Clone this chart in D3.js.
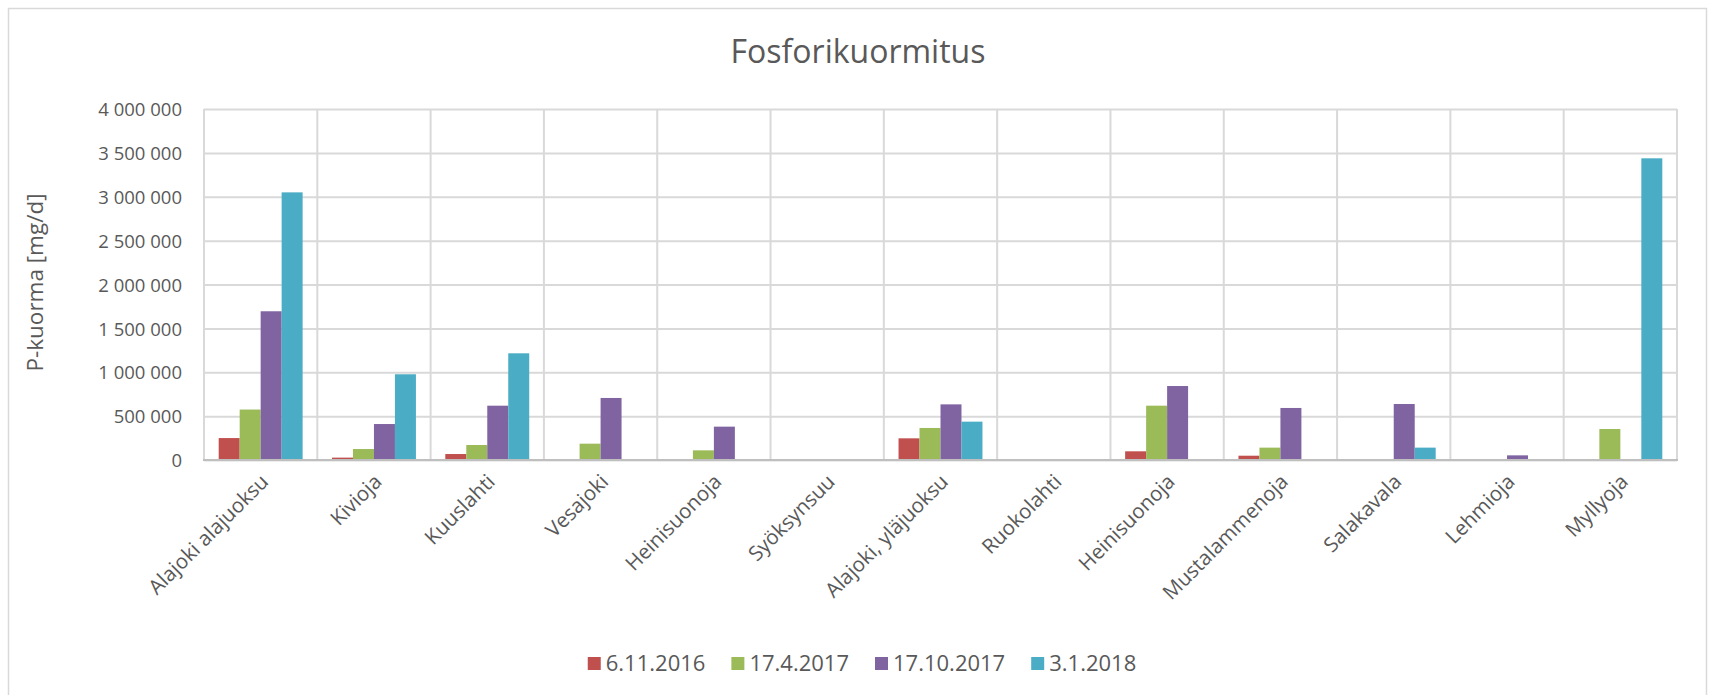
<!DOCTYPE html>
<html>
<head>
<meta charset="utf-8">
<script src="https://cdn.jsdelivr.net/npm/d3@7"></script>
<style>
  html, body { margin: 0; padding: 0; background: #ffffff; }
  svg { display: block; }
  text { font-family: "Open Sans", "Noto Sans", sans-serif; fill: #595959; }
</style>
</head>
<body>
<svg id="chart" width="1713" height="695"></svg>
<script>
// ---------- data ----------
const categories = ["Alajoki alajuoksu", "Kivioja", "Kuuslahti", "Vesajoki", "Heinisuonoja",
  "Syöksynsuu", "Alajoki, yläjuoksu", "Ruokolahti", "Heinisuonoja", "Mustalammenoja",
  "Salakavala", "Lehmioja", "Myllyoja"];
const seriesNames = ["6.11.2016", "17.4.2017", "17.10.2017", "3.1.2018"];
const values_6_11_2016  = [250000, 27000, 68000, 0, 0, 0, 247000, 0, 99000, 49000, 0, 0, 0];
const values_17_4_2017  = [575000, 125000, 171000, 186000, 110000, 0, 365000, 0, 619000, 141000, 0, 0, 353000];
const values_17_10_2017 = [1695000, 410000, 619000, 707000, 380000, 0, 634000, 0, 843000, 593000, 638000, 53000, 0];
const values_3_1_2018   = [3050000, 977000, 1216000, 0, 0, 0, 437000, 0, 0, 0, 141000, 0, 3438000];
const seriesValues = [values_6_11_2016, values_17_4_2017, values_17_10_2017, values_3_1_2018];
const yTickValues = [0, 500000, 1000000, 1500000, 2000000, 2500000, 3000000, 3500000, 4000000];
const yTickLabels = ["0", "500 000", "1 000 000", "1 500 000", "2 000 000", "2 500 000", "3 000 000", "3 500 000", "4 000 000"];
const chartTitle = "Fosforikuormitus";
const yAxisTitle = "P-kuorma [mg/d]";

// ---------- styles / layout ----------
const colors = ["#c0504d", "#9bbb59", "#8064a2", "#4bacc6"];
const gridColor = "#d9d9d9";
const plot = { left: 204, right: 1677, top: 109, bottom: 460 };

const svg = d3.select("#chart");

// outer frame
svg.append("rect")
  .attr("x", 8.5).attr("y", 8.5).attr("width", 1698).attr("height", 720)
  .attr("fill", "#ffffff").attr("stroke", gridColor).attr("stroke-width", 1.5);

const idx = categories.map((d, i) => i);
const x = d3.scaleBand().domain(idx).range([plot.left, plot.right]).paddingInner(0).paddingOuter(0);
const xInner = d3.scaleBand().domain(d3.range(seriesNames.length)).range([0, x.bandwidth()])
  .paddingInner(0).paddingOuter(0.7);
const y = d3.scaleLinear().domain([0, 4000000]).range([plot.bottom, plot.top]);

// horizontal gridlines
const gY = svg.append("g")
  .attr("transform", `translate(${plot.left},0)`)
  .call(d3.axisLeft(y).tickValues(yTickValues)
    .tickSize(-(plot.right - plot.left))
    .tickFormat((d, i) => yTickLabels[i]));
gY.select(".domain").remove();
gY.selectAll(".tick line").attr("stroke", gridColor).attr("stroke-width", 2);
gY.selectAll(".tick text")
  .attr("x", -22)
  .attr("dy", "0.36em")
  .style("font-size", "18.5px")
  .style("font-family", '"Open Sans", sans-serif')
  .attr("fill", "#595959");

// vertical gridlines at category boundaries
const boundaries = idx.map(i => x(i)).concat([plot.right]);
svg.append("g").selectAll("line").data(boundaries).join("line")
  .attr("x1", d => d).attr("x2", d => d)
  .attr("y1", plot.top).attr("y2", plot.bottom)
  .attr("stroke", gridColor).attr("stroke-width", 2);

// bars
const groups = svg.append("g").selectAll("g").data(idx).join("g")
  .attr("transform", i => `translate(${x(i)},0)`);
groups.selectAll("rect")
  .data(i => seriesValues.map((vals, s) => ({ s, v: vals[i] })))
  .join("rect")
  .attr("x", d => xInner(d.s))
  .attr("width", xInner.bandwidth())
  .attr("y", d => y(d.v))
  .attr("height", d => y(0) - y(d.v))
  .attr("fill", d => colors[d.s]);

// x axis line
svg.append("line")
  .attr("x1", plot.left - 1).attr("x2", plot.right + 1)
  .attr("y1", plot.bottom).attr("y2", plot.bottom)
  .attr("stroke", "#bfbfbf").attr("stroke-width", 2);

// x labels rotated
const xAxis = d3.axisBottom(x).tickSize(0).tickFormat(i => categories[i]);
const gX = svg.append("g").attr("transform", `translate(0,${plot.bottom})`).call(xAxis);
gX.select(".domain").remove();
gX.selectAll(".tick text")
  .attr("text-anchor", "end")
  .attr("x", 0).attr("y", 0).attr("dy", 0)
  .attr("transform", "translate(9,23) rotate(-45)")
  .style("font-size", "20.5px")
  .style("font-family", '"Open Sans", sans-serif')
  .attr("fill", "#595959");

// title
svg.append("text")
  .attr("x", 858).attr("y", 63)
  .attr("text-anchor", "middle")
  .style("font-size", "32px")
  .text(chartTitle);

// y axis title
svg.append("text")
  .attr("transform", `translate(43,${(plot.top + plot.bottom) / 2 - 2}) rotate(-90)`)
  .attr("text-anchor", "middle")
  .style("font-size", "22.5px")
  .text(yAxisTitle);

// legend
const legend = svg.append("g");
const items = legend.selectAll("g").data(seriesNames).join("g");
items.append("rect").attr("width", 13).attr("height", 13).attr("y", -14)
  .attr("fill", (d, i) => colors[i]);
items.append("text").attr("x", 18).attr("y", 0).style("font-size", "22px").text(d => d);
let cx = 0;
items.each(function () {
  const w = 18 + d3.select(this).select("text").node().getComputedTextLength();
  d3.select(this).attr("transform", `translate(${cx},0)`);
  cx += w + 26;
});
const total = cx - 26;
legend.attr("transform", `translate(${862 - total / 2},671)`);
</script>
</body>
</html>
